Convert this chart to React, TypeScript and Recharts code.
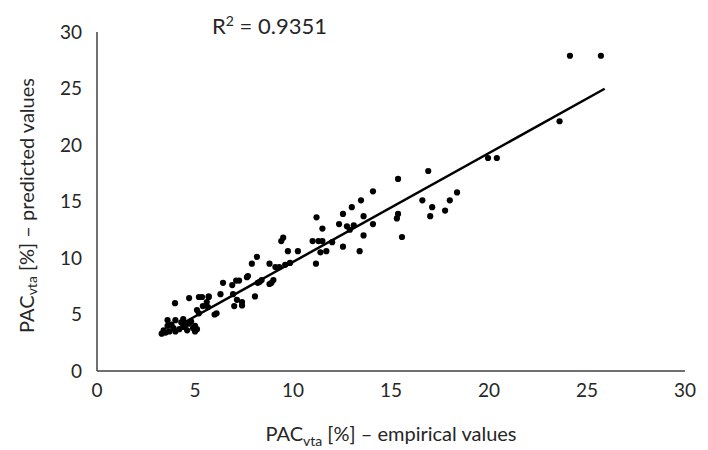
import { ScatterChart, Scatter, XAxis, YAxis, ZAxis } from "recharts";

// empirical PAC_vta values (x) and predicted values (y)
const empirical = [
  3.3, 3.4, 3.5, 3.6, 3.7, 3.6, 3.9, 4.0, 4.0, 4.2, 4.3, 4.4, 4.5, 4.6, 4.7, 4.8, 4.9, 5.0, 5.0, 5.1, 4.4, 3.8,
  3.98, 4.7, 5.2, 5.7, 5.4, 5.66, 6.0, 6.1, 5.1, 5.2, 5.36, 5.6, 5.7, 6.3, 6.94, 7.0, 7.4, 7.14, 7.4, 8.06,
  6.43, 6.9, 7.1, 7.25, 7.7, 7.65, 7.9, 8.16, 8.2, 8.3, 8.4, 8.8, 8.8, 8.9, 9.0, 9.1, 9.3, 9.6, 9.85,
  9.4, 9.5, 9.74, 10.25, 11.0, 11.17, 11.2, 11.3, 11.5, 11.4, 11.7, 11.5, 12.0, 12.35, 12.55, 12.55, 12.75,
  12.9, 13.0, 13.1, 13.4, 13.47, 13.6, 13.6, 14.08, 14.08, 15.3, 15.36, 15.36, 15.56, 16.6, 16.9, 17.0,
  17.1, 17.76, 18.0, 18.37, 19.95, 20.4, 23.6, 24.13, 25.71,
];
const predicted = [
  3.3, 3.6, 3.4, 4.0, 3.5, 4.5, 3.8, 3.5, 4.5, 3.7, 4.3, 4.6, 4.0, 3.6, 4.2, 4.4, 3.8, 3.5, 4.0, 3.7, 3.9, 4.1,
  6.0, 6.45, 6.55, 6.55, 5.75, 5.66, 5.0, 5.1, 5.4, 5.1, 6.55, 6.1, 6.6, 6.8, 6.8, 5.75, 5.8, 6.3, 6.1, 6.6,
  7.8, 7.6, 8.0, 8.0, 8.4, 8.3, 9.5, 10.1, 7.8, 7.9, 8.05, 9.5, 7.7, 7.8, 8.05, 9.2, 9.2, 9.4, 9.56,
  11.5, 11.8, 10.6, 10.6, 11.5, 9.5, 13.6, 11.5, 11.5, 10.5, 10.6, 12.6, 11.4, 13.0, 11.0, 13.9, 12.8,
  12.5, 14.5, 12.9, 10.6, 15.1, 13.7, 12.0, 15.9, 13.0, 13.5, 13.9, 17.0, 11.86, 15.1, 17.7, 13.7,
  14.5, 14.2, 15.1, 15.8, 18.85, 18.85, 22.1, 27.9, 27.9,
];

// fitted trend line end points
const trendX = [4.4, 25.9];
const trendY = [4.25, 24.98];

const ticks = [0, 5, 10, 15, 20, 25, 30];
const r2 = "0.9351";

const points = empirical.map((x, i) => ({ x, y: predicted[i] }));
const trend = trendX.map((x, i) => ({ x, y: trendY[i] }));

const font = "Lato, 'Open Sans', sans-serif";
const axisColor = "#404040";

const Dot = (p: any) => <circle cx={p.cx} cy={p.cy} r={3.1} fill="#000" />;
const NoDot = () => <g />;

const YTitle = (props: any) => {
  const vb = props.viewBox;
  const cy = vb.y + vb.height / 2 + 4;
  return (
    <text x={26} y={cy} transform={`rotate(-90 26 ${cy})`} textAnchor="middle" dominantBaseline="central"
      fontFamily={font} fontSize={20} fill="#262626">
      PAC<tspan fontSize={14} dy={5}>vta</tspan><tspan dy={-5}> [%] – predicted values</tspan>
    </text>
  );
};

const XTitle = (props: any) => {
  const vb = props.viewBox;
  const cx = vb.x + vb.width / 2;
  return (
    <text x={cx} y={441} textAnchor="middle" fontFamily={font} fontSize={20} fill="#262626">
      PAC<tspan fontSize={14} dy={5}>vta</tspan><tspan dy={-5}> [%] – empirical values</tspan>
    </text>
  );
};

export default function App() {
  return (
    <div style={{ position: "absolute", left: 0, top: 0, width: 708, height: 450, background: "#fff" }}>
      <div style={{ position: "absolute", left: 212, top: 15, fontFamily: font, fontSize: 22, lineHeight: "22px", color: "#262626", whiteSpace: "nowrap" }}>
        R<sup style={{ fontSize: 14, lineHeight: 0 }}>2</sup> = {r2}
      </div>
      <ScatterChart width={708} height={450} margin={{ top: 32, right: 23, bottom: 49, left: 0 }}>
        <XAxis type="number" dataKey="x" domain={[0, 30]} ticks={ticks} interval={0}
          tickLine={false} tickSize={11} tickMargin={2}
          axisLine={{ stroke: axisColor, strokeWidth: 1.5 }}
          tick={{ fill: "#262626", fontSize: 19, fontFamily: font }}
          label={{ content: XTitle }} />
        <YAxis type="number" dataKey="y" domain={[0, 30]} ticks={ticks} interval={0} width={97}
          tickLine={false} tickSize={13} tickMargin={2}
          axisLine={{ stroke: axisColor, strokeWidth: 1.5 }}
          tick={{ fill: "#262626", fontSize: 19, fontFamily: font }}
          label={{ content: YTitle }} />
        <ZAxis range={[30, 30]} />
        <Scatter data={points} shape={Dot} isAnimationActive={false} />
        <Scatter data={trend} line={{ stroke: "#000", strokeWidth: 2.5 }} shape={NoDot} isAnimationActive={false} />
      </ScatterChart>
    </div>
  );
}
